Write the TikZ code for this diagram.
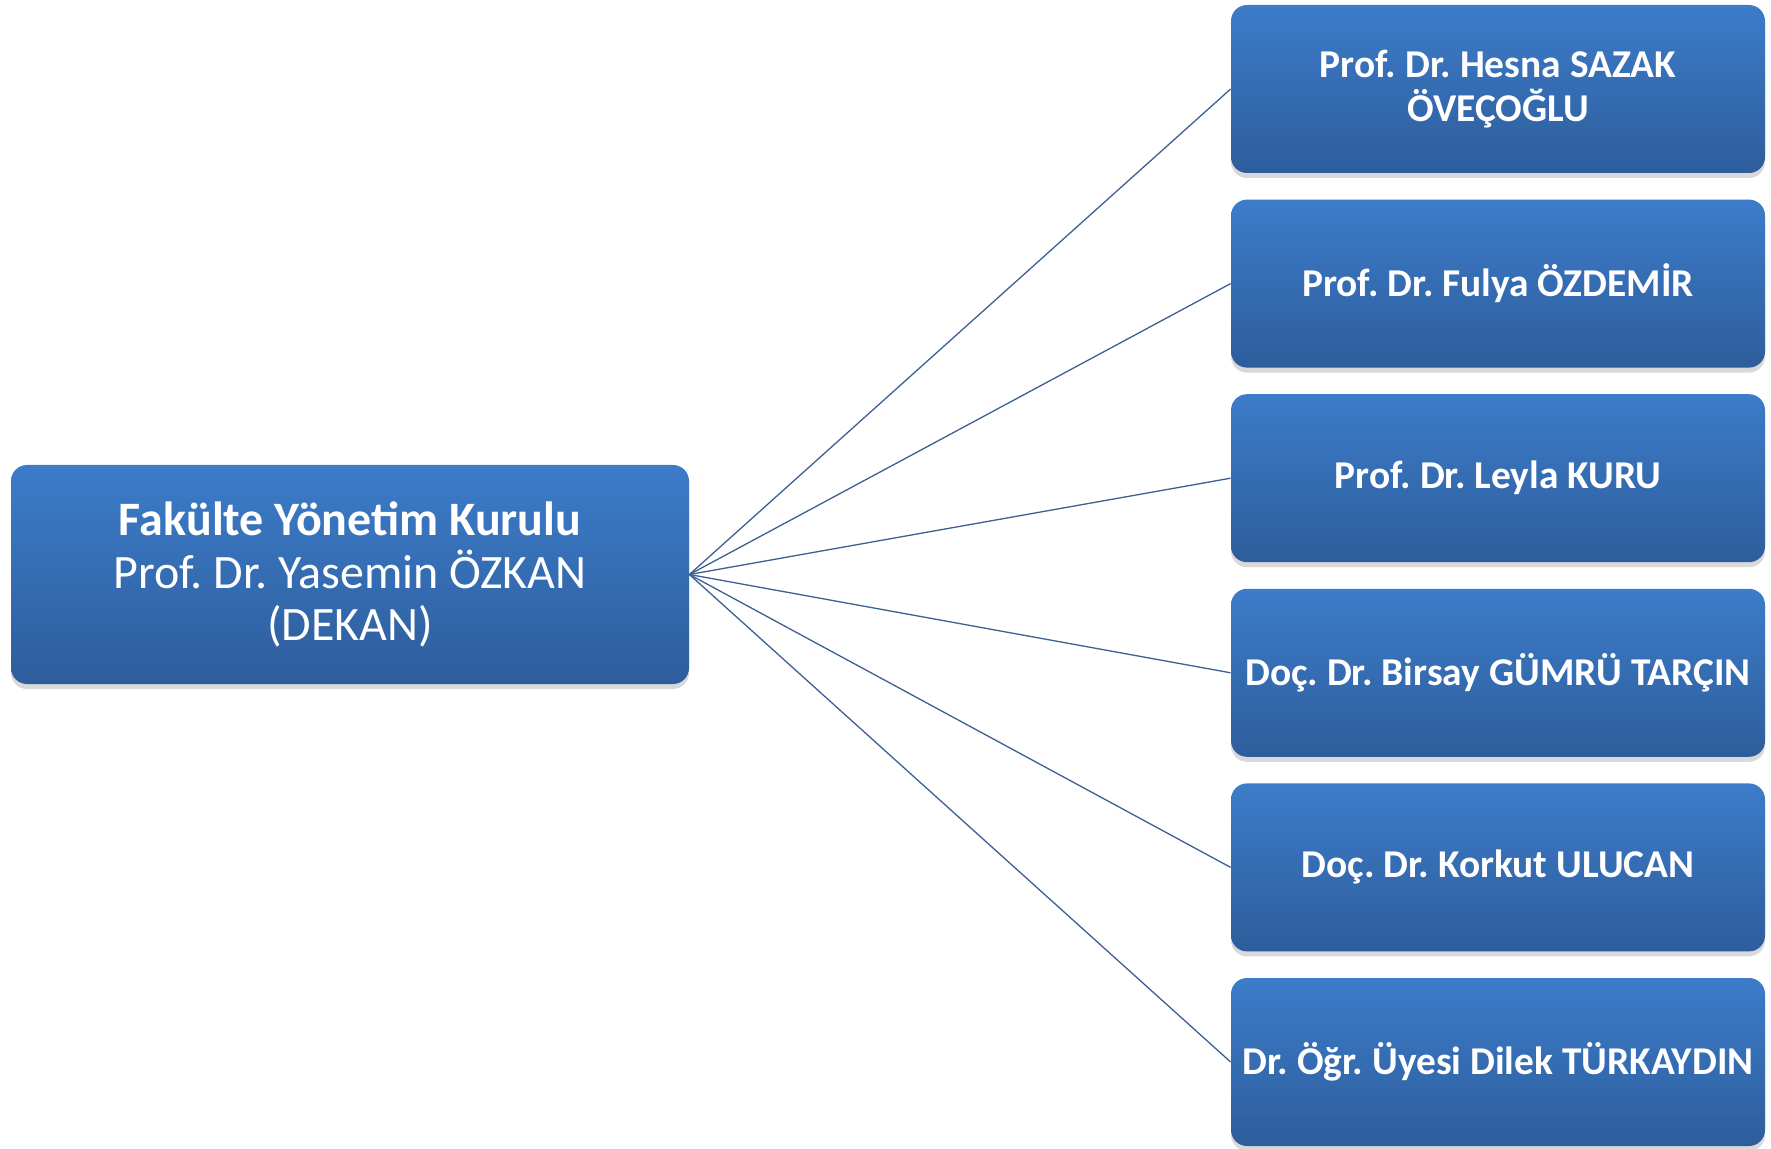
\documentclass[tikz,border=0pt]{standalone}
\usepackage{fontspec}
\setmainfont{Carlito}[Ligatures=TeX]
\usetikzlibrary{shadows}
\definecolor{boxtop}{HTML}{3C7CC9}
\definecolor{boxbot}{HTML}{2E5D9C}
\definecolor{linkblue}{HTML}{3D5F91}
\tikzset{
  unitbox/.style={rounded corners=8pt, top color=boxtop, bottom color=boxbot,
    draw=none, text=white, align=center, inner sep=2pt,
    drop shadow={shadow xshift=0pt, shadow yshift=-2.5pt, opacity=0.3}},
  member/.style={unitbox, minimum width=267pt, minimum height=84pt,
    font=\fontsize{19.7}{22}\selectfont\bfseries},
  link/.style={draw=linkblue, line width=0.65pt}
}
\frenchspacing
\begin{document}
\begin{tikzpicture}[x=0.5pt, y=-0.5pt]
   \useasboundingbox (0,0) rectangle (1771,1149);
   \node[unitbox, minimum width=339pt, minimum height=109.5pt,
     font=\fontsize{24}{26.3}\selectfont] (dekan) at (350,574.5)
     {\textbf{Fakülte Yönetim Kurulu}\\Prof. Dr. Yasemin ÖZKAN\\(DEKAN)};
   \node[member] (m1) at (1498,89) {Prof. Dr. Hesna SAZAK\\ÖVEÇOĞLU};
   \node[member] (m2) at (1498,283.6) {Prof. Dr. Fulya ÖZDEMİR};
   \node[member] (m3) at (1498,478.2) {Prof. Dr. Leyla KURU};
   \node[member] (m4) at (1498,672.8) {Doç. Dr. Birsay GÜMRÜ TARÇIN};
   \node[member] (m5) at (1498,867.4) {Doç. Dr. Korkut ULUCAN};
   \node[member] (m6) at (1498,1062) {Dr. Öğr. Üyesi Dilek TÜRKAYDIN};
   \draw[link] (dekan.east) -- (m1.west);
   \draw[link] (dekan.east) -- (m2.west);
   \draw[link] (dekan.east) -- (m3.west);
   \draw[link] (dekan.east) -- (m4.west);
   \draw[link] (dekan.east) -- (m5.west);
   \draw[link] (dekan.east) -- (m6.west);
\end{tikzpicture}
\end{document}
